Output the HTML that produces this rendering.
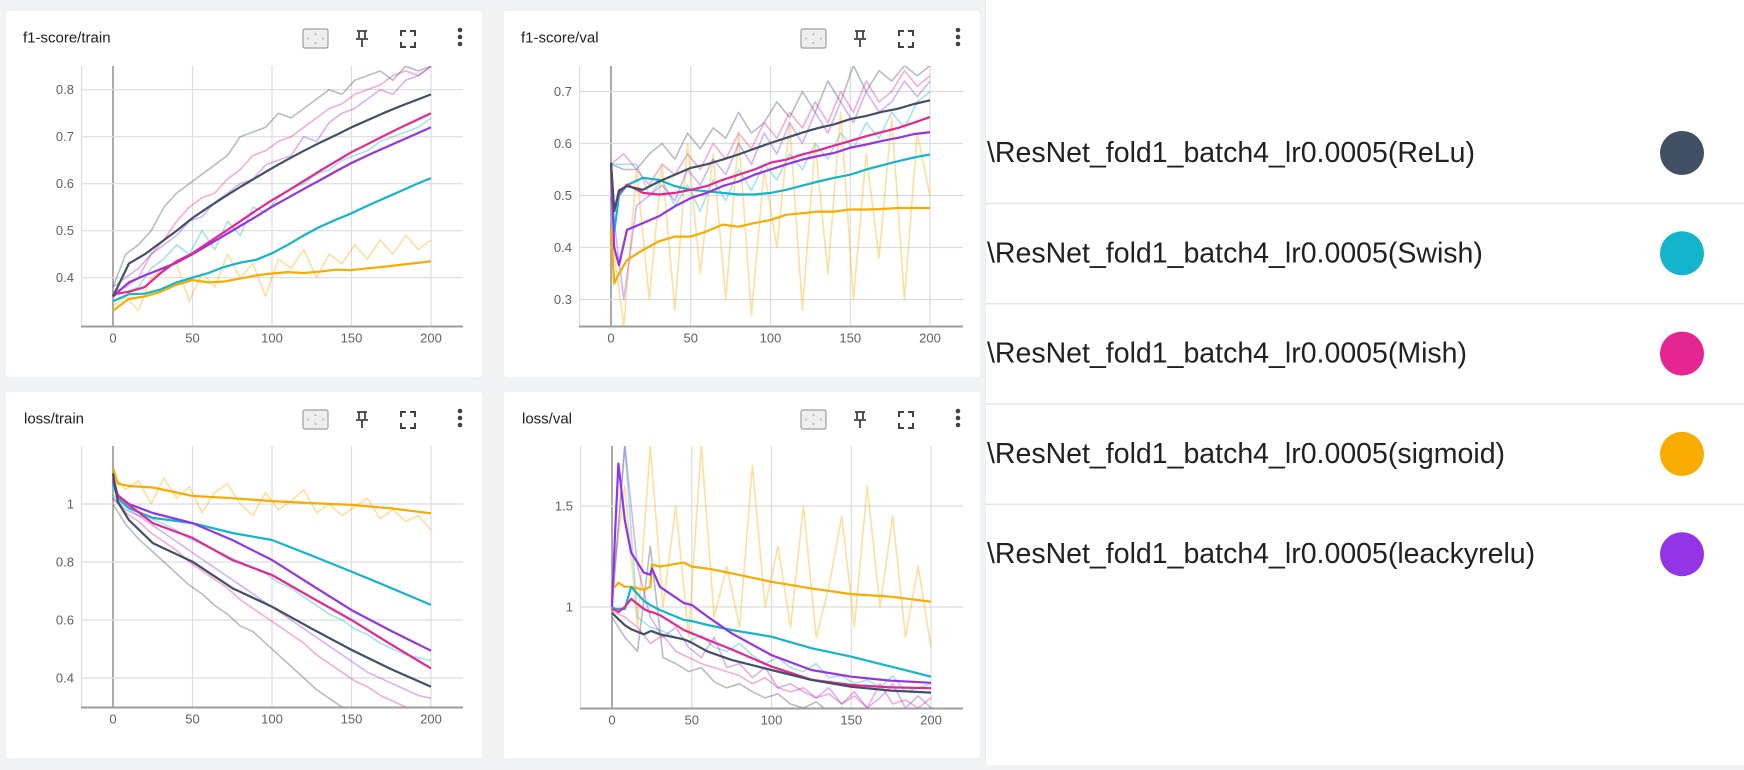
<!DOCTYPE html>
<html>
<head>
<meta charset="utf-8">
<style>
  html,body{margin:0;padding:0;background:#f1f3f4;}
  body{width:1744px;height:765px;overflow:hidden;font-family:"Liberation Sans",sans-serif;}
  svg text{font-family:"Liberation Sans",sans-serif;}
</style>
</head>
<body>
<svg id="root" xmlns="http://www.w3.org/2000/svg" width="1744" height="765" viewBox="0 0 1744 765">
  <rect x="0" y="0" width="1744" height="765" fill="#f1f3f4"/>
  <g>
    <rect x="985" y="0" width="759" height="765" fill="#ffffff"/>
    <line x1="985.5" y1="0" x2="985.5" y2="765" stroke="#ececec" stroke-width="1"/>
  </g>
  <g id="cards"></g>
  <g id="legend"></g>
</svg>
<script>
const runNames = ["\\ResNet_fold1_batch4_lr0.0005(ReLu)","\\ResNet_fold1_batch4_lr0.0005(Swish)","\\ResNet_fold1_batch4_lr0.0005(Mish)","\\ResNet_fold1_batch4_lr0.0005(sigmoid)","\\ResNet_fold1_batch4_lr0.0005(leackyrelu)"];
const runKeys = ["relu","swish","mish","sigmoid","leaky"];
const runColors = ["#425066","#12b5cb","#e52592","#f9ab00","#9334e6"];
const xTicks = [0,50,100,150,200];
const rawSteps = [0,8,16,24,32,40,48,56,64,72,80,88,96,104,112,120,128,136,144,152,160,168,176,184,192,200];

const f1TrainSteps = [0,10,20,30,40,50,60,70,80,90,100,110,120,130,140,150,160,170,180,190,200];
const f1TrainRelu = [0.36,0.43,0.45,0.475,0.50,0.527,0.55,0.572,0.593,0.613,0.633,0.652,0.67,0.687,0.703,0.72,0.735,0.75,0.764,0.777,0.79];
const f1TrainSwish = [0.35,0.365,0.366,0.375,0.39,0.40,0.41,0.423,0.432,0.438,0.452,0.47,0.49,0.508,0.523,0.537,0.553,0.568,0.583,0.598,0.612];
const f1TrainMish = [0.365,0.37,0.38,0.41,0.435,0.452,0.475,0.497,0.52,0.543,0.565,0.585,0.606,0.627,0.647,0.667,0.684,0.701,0.718,0.734,0.75];
const f1TrainSigmoid = [0.33,0.355,0.36,0.37,0.385,0.395,0.39,0.392,0.398,0.405,0.409,0.412,0.41,0.413,0.417,0.416,0.42,0.423,0.427,0.431,0.435];
const f1TrainLeaky = [0.36,0.39,0.405,0.418,0.432,0.45,0.47,0.49,0.51,0.53,0.551,0.57,0.589,0.607,0.626,0.644,0.66,0.675,0.69,0.705,0.72];
const f1TrainRawRelu = [0.38,0.45,0.47,0.50,0.55,0.58,0.60,0.62,0.64,0.66,0.70,0.71,0.72,0.75,0.74,0.76,0.78,0.80,0.79,0.82,0.83,0.84,0.82,0.85,0.84,0.85];
const f1TrainRawSwish = [0.36,0.37,0.38,0.42,0.44,0.47,0.45,0.50,0.46,0.52,0.49,0.55,0.54,0.57,0.59,0.60,0.62,0.63,0.65,0.66,0.67,0.69,0.70,0.71,0.72,0.74];
const f1TrainRawMish = [0.37,0.38,0.40,0.45,0.48,0.52,0.55,0.57,0.58,0.61,0.63,0.66,0.67,0.69,0.70,0.72,0.74,0.76,0.77,0.79,0.80,0.81,0.83,0.84,0.83,0.85];
const f1TrainRawSigmoid = [0.34,0.36,0.33,0.40,0.42,0.43,0.35,0.41,0.38,0.45,0.40,0.43,0.36,0.44,0.42,0.46,0.40,0.45,0.43,0.47,0.44,0.48,0.45,0.49,0.46,0.48];
const f1TrainRawLeaky = [0.38,0.40,0.42,0.45,0.47,0.49,0.52,0.53,0.56,0.58,0.60,0.61,0.64,0.65,0.66,0.70,0.69,0.73,0.75,0.76,0.78,0.80,0.79,0.82,0.83,0.85];
const f1TrainYTicks = [0.4,0.5,0.6,0.7,0.8];

const f1ValSteps = [0,2,5,10,20,30,40,50,60,70,80,90,100,110,120,130,140,150,160,170,180,190,200];
const f1ValRelu = [0.563,0.47,0.51,0.518,0.511,0.527,0.54,0.553,0.56,0.569,0.579,0.59,0.601,0.611,0.621,0.63,0.637,0.647,0.653,0.661,0.667,0.676,0.683];
const f1ValSwish = [0.563,0.43,0.50,0.52,0.534,0.53,0.518,0.511,0.508,0.505,0.502,0.502,0.505,0.511,0.519,0.527,0.534,0.54,0.55,0.558,0.566,0.573,0.579];
const f1ValMish = [0.56,0.47,0.505,0.521,0.505,0.502,0.505,0.511,0.518,0.53,0.54,0.55,0.563,0.569,0.579,0.587,0.596,0.605,0.614,0.622,0.63,0.64,0.651];
const f1ValSigmoid = [0.434,0.331,0.35,0.376,0.395,0.412,0.421,0.421,0.431,0.444,0.44,0.447,0.453,0.463,0.466,0.469,0.469,0.473,0.473,0.474,0.476,0.476,0.476];
const f1ValLeaky = [0.56,0.40,0.366,0.434,0.447,0.46,0.479,0.495,0.505,0.518,0.527,0.54,0.55,0.56,0.569,0.576,0.582,0.592,0.598,0.605,0.611,0.618,0.622];
const f1ValRawRelu = [0.56,0.55,0.55,0.58,0.60,0.57,0.62,0.59,0.63,0.61,0.66,0.62,0.64,0.68,0.65,0.70,0.66,0.72,0.68,0.75,0.70,0.74,0.72,0.75,0.73,0.75];
const f1ValRawSwish = [0.56,0.56,0.56,0.50,0.53,0.48,0.52,0.47,0.53,0.49,0.55,0.51,0.56,0.53,0.58,0.55,0.60,0.57,0.62,0.59,0.64,0.61,0.66,0.63,0.68,0.70];
const f1ValRawMish = [0.56,0.58,0.55,0.52,0.56,0.54,0.58,0.55,0.60,0.57,0.62,0.59,0.64,0.61,0.66,0.63,0.68,0.64,0.70,0.66,0.72,0.68,0.70,0.74,0.71,0.73];
const f1ValRawSigmoid = [0.43,0.25,0.55,0.30,0.56,0.28,0.60,0.35,0.58,0.30,0.62,0.27,0.55,0.40,0.64,0.28,0.60,0.35,0.66,0.30,0.58,0.38,0.65,0.30,0.62,0.50];
const f1ValRawLeaky = [0.50,0.30,0.48,0.50,0.52,0.49,0.55,0.52,0.57,0.54,0.60,0.56,0.62,0.58,0.64,0.60,0.66,0.62,0.68,0.64,0.70,0.66,0.68,0.72,0.69,0.72];
const f1ValYTicks = [0.3,0.4,0.5,0.6,0.7];

const lossTrainSteps = [0,3,10,25,50,75,100,125,150,175,200];
const lossTrainRelu = [1.106,1.008,0.945,0.865,0.801,0.71,0.646,0.57,0.497,0.43,0.37];
const lossTrainSwish = [1.07,1.02,0.986,0.952,0.934,0.9,0.876,0.822,0.767,0.71,0.652];
const lossTrainMish = [1.09,1.03,0.997,0.934,0.883,0.807,0.755,0.677,0.6,0.515,0.433];
const lossTrainSigmoid = [1.125,1.07,1.062,1.057,1.028,1.02,1.01,1.003,0.997,0.985,0.968];
const lossTrainLeaky = [1.08,1.03,1.0,0.969,0.934,0.876,0.807,0.72,0.634,0.562,0.494];
const lossTrainRawRelu = [1.0,0.93,0.88,0.84,0.80,0.76,0.72,0.69,0.65,0.62,0.58,0.56,0.52,0.48,0.44,0.40,0.36,0.33,0.30,0.28,0.27,0.25,0.24,0.23,0.22,0.21];
const lossTrainRawSwish = [1.03,0.99,0.96,0.95,0.93,0.91,0.88,0.86,0.84,0.82,0.80,0.78,0.76,0.73,0.71,0.68,0.65,0.62,0.60,0.57,0.55,0.52,0.50,0.48,0.47,0.46];
const lossTrainRawMish = [1.02,0.97,0.94,0.90,0.87,0.84,0.80,0.77,0.74,0.71,0.67,0.64,0.61,0.58,0.55,0.52,0.48,0.45,0.42,0.39,0.37,0.34,0.32,0.30,0.28,0.27];
const lossTrainRawSigmoid = [1.1,1.05,1.08,1.0,1.09,1.02,1.06,0.97,1.04,1.07,1.0,0.96,1.04,0.98,1.01,1.05,0.97,1.0,0.96,0.99,1.02,0.95,0.98,0.94,0.96,0.91];
const lossTrainRawLeaky = [1.02,0.98,0.96,0.93,0.90,0.87,0.84,0.81,0.78,0.75,0.72,0.69,0.66,0.63,0.60,0.57,0.54,0.51,0.48,0.45,0.42,0.40,0.38,0.36,0.34,0.33];
const lossTrainYTicks = [0.4,0.6,0.8,1];

const lossValSteps = [0,2,4,8,12,20,24,25,30,45,50,60,75,100,125,150,175,200];
const lossValRelu = [0.97,0.955,0.94,0.91,0.89,0.865,0.88,0.88,0.865,0.84,0.823,0.779,0.738,0.688,0.639,0.605,0.586,0.576];
const lossValSwish = [1.0,0.99,0.99,0.99,1.10,1.03,1.01,1.005,0.985,0.936,0.93,0.911,0.886,0.853,0.796,0.754,0.705,0.655];
const lossValMish = [0.99,0.985,0.975,1.0,1.04,0.99,0.975,0.975,0.96,0.886,0.87,0.837,0.79,0.705,0.64,0.614,0.602,0.598];
const lossValSigmoid = [1.096,1.1,1.12,1.10,1.1,1.085,1.1,1.21,1.2,1.22,1.2,1.19,1.167,1.125,1.092,1.064,1.051,1.026];
const lossValLeaky = [1.0,1.38,1.71,1.43,1.27,1.17,1.16,1.19,1.10,1.02,1.01,0.952,0.87,0.762,0.688,0.655,0.635,0.625];
const lossValRawRelu = [0.95,0.85,0.78,1.3,0.75,0.72,0.68,0.7,0.63,0.6,0.62,0.58,0.55,0.57,0.52,0.5,0.53,0.48,0.5,0.47,0.49,0.46,0.48,0.45,0.47,0.46];
const lossValRawSwish = [1.0,1.8,0.95,0.9,0.88,0.85,0.83,0.86,0.8,0.78,0.82,0.76,0.72,0.75,0.7,0.68,0.72,0.65,0.66,0.62,0.64,0.6,0.66,0.58,0.6,0.62];
const lossValRawMish = [0.98,0.95,0.9,0.82,0.86,0.78,0.75,0.72,0.7,0.68,0.66,0.62,0.65,0.6,0.58,0.6,0.55,0.57,0.52,0.56,0.5,0.62,0.52,0.54,0.5,0.55];
const lossValRawSigmoid = [1.1,1.6,0.9,1.8,1.0,1.5,0.85,1.8,0.95,1.2,0.9,1.7,1.0,1.3,0.9,1.5,0.85,1.1,1.45,0.9,1.6,1.0,1.45,0.85,1.2,0.8];
const lossValRawLeaky = [1.0,1.8,1.2,0.95,0.85,0.9,0.8,0.75,0.85,0.7,0.72,0.65,0.7,0.6,0.62,0.58,0.55,0.6,0.52,0.58,0.5,0.55,0.62,0.5,0.56,0.5];
const lossValYTicks = [1,1.5];

const NS = "http://www.w3.org/2000/svg";
function el(tag, attrs, parent){
  const e = document.createElementNS(NS, tag);
  for (const k in attrs) e.setAttribute(k, attrs[k]);
  if (parent) parent.appendChild(e);
  return e;
}
function lin(d0,d1,r0,r1){ return v => r0 + (v-d0)*(r1-r0)/(d1-d0); }

const charts = [
  {key:"f1-train", title:"f1-score/train", card:[5,10,478,368], titleX:23, titleY:38,
   plot:{l:81,r:463,t:66,b:326}, xMap:[0,200,113,431], yMap:[0.8,0.4,89.7,277.7], yLabelX:74,
   yTicks:f1TrainYTicks, steps:f1TrainSteps,
   smooth:[f1TrainRelu,f1TrainSwish,f1TrainMish,f1TrainSigmoid,f1TrainLeaky],
   raw:[f1TrainRawRelu,f1TrainRawSwish,f1TrainRawMish,f1TrainRawSigmoid,f1TrainRawLeaky]},
  {key:"f1-val", title:"f1-score/val", card:[503,10,478,368], titleX:521, titleY:38,
   plot:{l:579,r:963,t:66,b:326}, xMap:[0,200,611,930], yMap:[0.7,0.3,91.5,299.5], yLabelX:572,
   yTicks:f1ValYTicks, steps:f1ValSteps,
   smooth:[f1ValRelu,f1ValSwish,f1ValMish,f1ValSigmoid,f1ValLeaky],
   raw:[f1ValRawRelu,f1ValRawSwish,f1ValRawMish,f1ValRawSigmoid,f1ValRawLeaky]},
  {key:"loss-train", title:"loss/train", card:[5,391,478,368], titleX:24, titleY:419,
   plot:{l:81,r:463,t:446,b:707}, xMap:[0,200,113,431], yMap:[1,0.4,504,678], yLabelX:74,
   yTicks:lossTrainYTicks, steps:lossTrainSteps,
   smooth:[lossTrainRelu,lossTrainSwish,lossTrainMish,lossTrainSigmoid,lossTrainLeaky],
   raw:[lossTrainRawRelu,lossTrainRawSwish,lossTrainRawMish,lossTrainRawSigmoid,lossTrainRawLeaky]},
  {key:"loss-val", title:"loss/val", card:[503,391,478,368], titleX:522, titleY:419,
   plot:{l:580,r:963,t:446,b:708}, xMap:[0,200,612,931], yMap:[1,0.5,607,708], yLabelX:573,
   yTicks:lossValYTicks, steps:lossValSteps,
   smooth:[lossValRelu,lossValSwish,lossValMish,lossValSigmoid,lossValLeaky],
   raw:[lossValRawRelu,lossValRawSwish,lossValRawMish,lossValRawSigmoid,lossValRawLeaky]}
];

const cardsG = document.getElementById("cards");
const defs = el("defs", {}, cardsG);

function pathFrom(xs, ys, X, Y){
  let d = "";
  for (let i=0;i<xs.length;i++){ d += (i?"L":"M") + X(xs[i]).toFixed(1) + "," + Y(ys[i]).toFixed(1); }
  return d;
}

charts.forEach((c, ci) => {
  const g = el("g", {}, cardsG);
  
  
  const [cx, cy, cw, ch] = c.card;
  const card = el("rect", {x:cx, y:cy, width:cw, height:ch, rx:4, fill:"#ffffff", stroke:"#ebebeb", "stroke-width":1}, g);
  
  

  const t = el("text", {x:c.titleX, y:c.titleY, "font-size":15, fill:"#212121", "dominant-baseline":"central"}, g);
  t.textContent = c.title;
  
  

  const ox = cx - 5;
  const fit = el("g", {}, g);
  
  
  el("rect", {x:ox+303, y:cy+19, width:25, height:19, rx:2, fill:"#eeeeee", stroke:"#9e9e9e", "stroke-width":1.2}, fit);
  el("path", {d:`M${ox+315.5},${cy+23}l-1.5,1.5h3z M${ox+315.5},${cy+34}l-1.5,-1.5h3z M${ox+307},${cy+28.5}l1.5,-1.5v3z M${ox+324},${cy+28.5}l-1.5,-1.5v3z`, fill:"#9e9e9e"}, fit);
  const pin = el("g", {}, g);
  
  
  el("path", {d:`M${ox+357},${cy+21}h10 M${ox+359},${cy+21}v7 M${ox+365},${cy+21}v7 M${ox+356},${cy+29}h12 M${ox+362},${cy+29}v8`, stroke:"#424242", "stroke-width":1.8, fill:"none"}, pin);
  const fs = el("g", {}, g);
  
  
  el("path", {d:`M${ox+401},${cy+26}v-5h5 M${ox+410},${cy+21}h5v5 M${ox+415},${cy+32}v5h-5 M${ox+406},${cy+37}h-5v-5`, stroke:"#424242", "stroke-width":2, fill:"none"}, fs);
  const more = el("g", {}, g);
  
  
  [20,27,34].forEach(dy => el("circle", {cx:ox+460, cy:cy+dy, r:2.3, fill:"#424242"}, more));

  const p = c.plot;
  const X = lin(c.xMap[0], c.xMap[1], c.xMap[2], c.xMap[3]);
  const Y = lin(c.yMap[0], c.yMap[1], c.yMap[2], c.yMap[3]);

  const grid = el("g", {}, g);
  
  
  el("line", {x1:p.l+0.5, y1:p.t, x2:p.l+0.5, y2:p.b, stroke:"#dddddd", "stroke-width":1.2}, grid);
  xTicks.forEach(v => {
    el("line", {x1:X(v), y1:p.t, x2:X(v), y2:p.b, stroke: v===0 ? "#aaaaaa" : "#dddddd", "stroke-width": v===0 ? 2 : 1.2}, grid);
  });
  c.yTicks.forEach(v => {
    el("line", {x1:p.l, y1:Y(v), x2:p.r, y2:Y(v), stroke:"#dddddd", "stroke-width":1.2}, grid);
  });

  const xAxis = el("g", {}, g);
  
  
  el("line", {x1:p.l, y1:p.b+0.5, x2:p.r, y2:p.b+0.5, stroke:"#9e9e9e", "stroke-width":2}, xAxis);
  xTicks.forEach(v => {
    const tx = el("text", {x:X(v), y:p.b+12, "font-size":13, fill:"#616161", "text-anchor":"middle", "dominant-baseline":"central"}, xAxis);
    tx.textContent = String(v);
    
    
  });
  const yAxis = el("g", {}, g);
  
  
  c.yTicks.forEach(v => {
    const ty = el("text", {x:c.yLabelX, y:Y(v), "font-size":13, fill:"#616161", "text-anchor":"end", "dominant-baseline":"central"}, yAxis);
    ty.textContent = String(v);
    
    
  });

  const clip = el("clipPath", {id:"clip"+ci}, defs);
  el("rect", {x:p.l, y:p.t, width:p.r-p.l, height:p.b-p.t}, clip);

  const plotG = el("g", {"clip-path":"url(#clip"+ci+")"}, g);
  
  
  c.raw.forEach((vals, si) => {
    const r = el("path", {d:pathFrom(rawSteps, vals, X, Y), fill:"none", stroke:runColors[si], "stroke-opacity":0.38, "stroke-width":1.6, "stroke-linejoin":"round"}, plotG);
    
    
  });
  [3,1,4,2,0].forEach(si => {
    const s = el("path", {d:pathFrom(c.steps, c.smooth[si], X, Y), fill:"none", stroke:runColors[si], "stroke-width":2.2, "stroke-linejoin":"round"}, plotG);
    
    
  });
});

const legendG = document.getElementById("legend");
runNames.forEach((name, i) => {
  const cyL = 153 + 100.3*i;
  const row = el("g", {}, legendG);
  
  
  const tx = el("text", {x:987, y:cyL, "font-size":28.5, fill:"#212121", "dominant-baseline":"central"}, row);
  tx.textContent = name;
  
  
  const dot = el("circle", {cx:1682, cy:cyL, r:22, fill:runColors[i]}, row);
  
  
  if (i < runNames.length-1){
    const sep = el("line", {x1:986, y1:cyL+50.5, x2:1744, y2:cyL+50.5, stroke:"#e6e6e6", "stroke-width":1.5}, legendG);
    
    
  }
});
</script>
</body>
</html>
